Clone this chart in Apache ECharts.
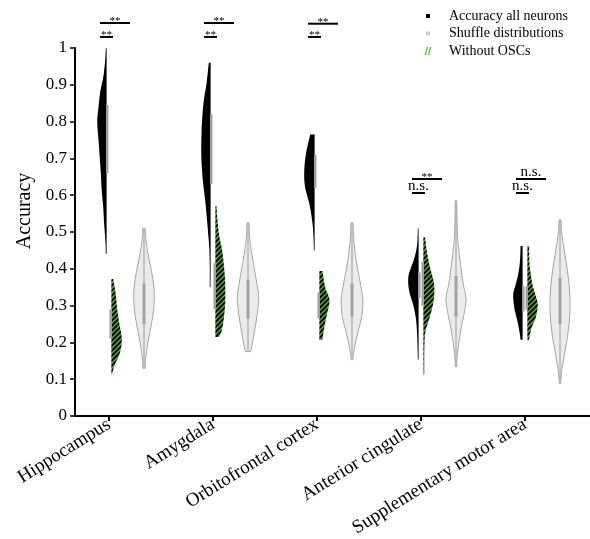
<!DOCTYPE html>
<html>
<head>
<meta charset="utf-8">
<script src="https://cdn.jsdelivr.net/npm/echarts@6/dist/echarts.min.js"></script>
<style>
  html, body { margin: 0; padding: 0; background: #fff; }
  #chart { width: 590px; height: 539px; }
</style>
</head>
<body>
<div id="chart"></div>
<script>
// regions on the x axis
const categories = ['Hippocampus', 'Amygdala', 'Orbitofrontal cortex', 'Anterior cingulate', 'Supplementary motor area'];

// violin outlines: [accuracy, relative density], top to bottom
const allNeuronsProfile = [
  [[1.00,0.03],[0.93,0.27],[0.885,0.60],[0.84,0.80],[0.80,0.93],[0.75,0.80],[0.70,0.67],[0.66,0.57],[0.61,0.47],[0.567,0.33],[0.52,0.23],[0.475,0.10],[0.44,0.03]],
  [[0.96,0.17],[0.903,0.40],[0.858,0.67],[0.81,0.83],[0.767,0.90],[0.722,0.93],[0.676,0.87],[0.63,0.73],[0.585,0.53],[0.54,0.37],[0.494,0.23],[0.45,0.10],[0.40,0.05],[0.35,0.03]],
  [[0.765,0.43],[0.71,0.87],[0.66,1.03],[0.62,0.93],[0.575,0.50],[0.53,0.23],[0.49,0.10],[0.45,0.03]],
  [[0.51,0.03],[0.467,0.13],[0.43,0.40],[0.402,0.77],[0.375,1.03],[0.339,0.93],[0.302,0.53],[0.266,0.27],[0.22,0.13],[0.153,0.03]],
  [[0.462,0.19],[0.421,0.25],[0.385,0.43],[0.357,0.68],[0.33,0.93],[0.293,0.81],[0.257,0.50],[0.23,0.31],[0.207,0.19]]
];
const noOscProfile = [
  [[0.372,0.17],[0.33,0.43],[0.29,0.57],[0.248,0.80],[0.22,1.0],[0.193,1.0],[0.166,0.77],[0.14,0.33],[0.115,0.05]],
  [[0.57,0.10],[0.54,0.17],[0.49,0.37],[0.45,0.67],[0.40,0.87],[0.36,0.97],[0.31,0.97],[0.265,0.83],[0.23,0.60],[0.215,0.35]],
  [[0.394,0.30],[0.35,0.57],[0.315,1.0],[0.275,0.73],[0.24,0.47],[0.207,0.30]],
  [[0.485,0.17],[0.448,0.33],[0.402,0.67],[0.357,1.07],[0.311,1.0],[0.266,0.60],[0.23,0.20],[0.193,0.08],[0.113,0.03]],
  [[0.462,0.16],[0.42,0.19],[0.40,0.25],[0.357,0.50],[0.33,0.78],[0.302,1.03],[0.266,0.81],[0.239,0.40],[0.207,0.16]]
];
const shuffleProfile = [
  [[0.51,0.13],[0.475,0.20],[0.43,0.47],[0.385,0.80],[0.339,1.02],[0.293,0.98],[0.248,0.73],[0.202,0.40],[0.157,0.17],[0.13,0.12]],
  [[0.525,0.10],[0.484,0.17],[0.448,0.33],[0.402,0.62],[0.357,0.90],[0.32,1.07],[0.266,0.87],[0.22,0.58],[0.175,0.28]],
  [[0.525,0.10],[0.484,0.17],[0.44,0.33],[0.393,0.60],[0.348,0.92],[0.315,1.08],[0.275,1.0],[0.239,0.70],[0.202,0.37],[0.166,0.13],[0.153,0.08]],
  [[0.585,0.07],[0.494,0.15],[0.448,0.30],[0.402,0.50],[0.357,0.73],[0.32,1.0],[0.284,0.85],[0.239,0.52],[0.193,0.25],[0.157,0.10],[0.134,0.07]],
  [[0.533,0.09],[0.494,0.19],[0.448,0.43],[0.402,0.70],[0.357,0.91],[0.311,1.0],[0.266,0.96],[0.22,0.77],[0.175,0.49],[0.129,0.21],[0.088,0.06]]
];

// interquartile boxes [q1, q3]
const allNeuronsBox = [[0.66,0.845],[0.63,0.82],[0.62,0.71],[0.32,0.39],[0.284,0.353]];
const noOscBox = [[0.21,0.29],[0.29,0.415],[0.265,0.335],[0.30,0.42],[0.29,0.353]];
const shuffleBox = [[0.25,0.36],[0.265,0.37],[0.27,0.36],[0.27,0.38],[0.25,0.375]];

// significance bars
const sigLongY = [1.068, 1.068, 1.066, 0.644, 0.644];
const sigShortY = [1.03, 1.03, 1.03, 0.606, 0.606];
const sigLongText = ['**', '**', '**', '**', 'n.s.'];
const sigShortText = ['**', '**', '**', 'n.s.', 'n.s.'];

const FONT = 'Liberation Serif';
const GAP = 2.5;       // px between the two half violins
const WIDTH = 10;      // px per density unit
const SHUF_SHIFT = 35; // px, shuffle violin right of tick
const GREEN = '#58b233';

// hatch pattern for the "without OSCs" halves
const hatch = document.createElement('canvas');
hatch.width = 5; hatch.height = 5;
(function () {
  const c = hatch.getContext('2d');
  c.fillStyle = '#000';
  c.fillRect(0, 0, 5, 5);
  c.strokeStyle = GREEN;
  c.lineWidth = 1.5;
  c.beginPath();
  c.moveTo(-1, 6); c.lineTo(6, -1);
  c.moveTo(-1, 1); c.lineTo(1, -1);
  c.moveTo(4, 6); c.lineTo(6, 4);
  c.stroke();
})();

function f(n) { return n.toFixed(2); }

// catmull-rom -> cubic bezier path through pts
function spline(pts, move) {
  let d = (move ? 'M' : 'L') + f(pts[0][0]) + ' ' + f(pts[0][1]);
  for (let k = 0; k < pts.length - 1; k++) {
    const p0 = pts[k - 1] || pts[k], p1 = pts[k], p2 = pts[k + 1], p3 = pts[k + 2] || p2;
    const c1x = p1[0] + (p2[0] - p0[0]) / 6, c1y = p1[1] + (p2[1] - p0[1]) / 6;
    const c2x = p2[0] - (p3[0] - p1[0]) / 6, c2y = p2[1] - (p3[1] - p1[1]) / 6;
    d += ' C' + f(c1x) + ' ' + f(c1y) + ' ' + f(c2x) + ' ' + f(c2y) + ' ' + f(p2[0]) + ' ' + f(p2[1]);
  }
  return d;
}

function halfViolin(profiles, boxes, side, fill) {
  return function (params, api) {
    const i = api.value(0);
    const xc = api.coord([i + 1, 0])[0];
    const edge = xc + side * GAP;
    const pts = profiles[i].map(p => [edge + side * p[1] * WIDTH, api.coord([0, p[0]])[1]]);
    const yTop = pts[0][1], yBot = pts[pts.length - 1][1];
    const d = spline(pts, true) + ' L' + f(edge) + ' ' + f(yBot) + ' L' + f(edge) + ' ' + f(yTop) + ' Z';
    const b = boxes[i];
    const y3 = api.coord([0, b[1]])[1], y1 = api.coord([0, b[0]])[1];
    const bx = side < 0 ? edge - 0.5 : edge - 2;
    return {
      type: 'group',
      children: [
        { type: 'line', shape: { x1: edge + side * 0.5, y1: yTop, x2: edge + side * 0.5, y2: yBot },
          style: { stroke: '#8c8c8c', lineWidth: 1 } },
        { type: 'path', shape: { pathData: d }, style: { fill: fill, stroke: null } },
        { type: 'rect', shape: { x: bx, y: y3, width: 2.5, height: y1 - y3 }, style: { fill: '#a0a0a0' } }
      ]
    };
  };
}

function fullViolin(params, api) {
  const i = api.value(0);
  const xc = api.coord([i + 1, 0])[0] + SHUF_SHIFT;
  const prof = shuffleProfile[i];
  const right = prof.map(p => [xc + p[1] * WIDTH, api.coord([0, p[0]])[1]]);
  const left = prof.slice().reverse().map(p => [xc - p[1] * WIDTH, api.coord([0, p[0]])[1]]);
  const d = spline(right, true) + ' ' + spline(left, false) + ' Z';
  const yTop = right[0][1], yBot = right[right.length - 1][1];
  const b = shuffleBox[i];
  const y3 = api.coord([0, b[1]])[1], y1 = api.coord([0, b[0]])[1];
  return {
    type: 'group',
    children: [
      { type: 'path', shape: { pathData: d }, style: { fill: '#ebebeb', stroke: '#9c9c9c', lineWidth: 0.9 } },
      { type: 'line', shape: { x1: xc, y1: yTop, x2: xc, y2: yBot }, style: { stroke: '#a8a8a8', lineWidth: 1.2 } },
      { type: 'rect', shape: { x: xc - 1.5, y: y3, width: 3, height: y1 - y3 }, style: { fill: '#a0a0a0' } }
    ]
  };
}

function sigLabel(x, y, text) {
  const isStar = text === '**';
  return {
    type: 'text',
    x: x, y: isStar ? y + 3.5 : y + 1,
    style: {
      text: text, align: 'center', verticalAlign: 'bottom',
      fontFamily: FONT, fontSize: isStar ? 11 : 15, fill: '#000'
    }
  };
}

function significance(params, api) {
  const i = api.value(0);
  const xc = api.coord([i + 1, 0])[0];
  const yl = api.coord([0, sigLongY[i]])[1];
  const ys = api.coord([0, sigShortY[i]])[1];
  const x0 = xc - 9, xl = xc + 21, xs = xc + 4;
  return {
    type: 'group',
    children: [
      { type: 'line', shape: { x1: x0, y1: yl, x2: xl, y2: yl }, style: { stroke: '#000', lineWidth: 2 } },
      { type: 'line', shape: { x1: x0, y1: ys, x2: xs, y2: ys }, style: { stroke: '#000', lineWidth: 2 } },
      sigLabel((x0 + xl) / 2, yl, sigLongText[i]),
      sigLabel((x0 + xs) / 2, ys, sigShortText[i])
    ]
  };
}

const idx = categories.map((c, i) => [i]);
const tickVals = categories.map((c, i) => i + 1);

const chart = echarts.init(document.getElementById('chart'));
chart.setOption({
  animation: false,
  textStyle: { fontFamily: FONT },
  grid: { left: 75, right: 0, top: 48, bottom: 123, outerBoundsMode: 'none' },
  legend: {
    orient: 'vertical',
    left: 419,
    top: 4,
    itemWidth: 8,
    itemHeight: 8,
    itemGap: 3.5,
    selectedMode: false,
    textStyle: { fontFamily: FONT, fontSize: 14, color: '#000', padding: [0, 0, 0, 12] },
    data: [
      // the stray moveTo points pad the bounding box so the square stays small
      { name: 'Accuracy all neurons', icon: 'path://M-0.5,-0.5 M9.5,9.5 M2,2L7,2L7,7L2,7Z', itemStyle: { color: '#000' } },
      { name: 'Shuffle distributions', icon: 'path://M-0.5,-0.5 M9.5,9.5 M2,2L7,2L7,7L2,7Z', itemStyle: { color: '#cfcfcf' } },
      { name: 'Without OSCs', icon: 'path://M0,10L3,0L4.6,0L1.6,10Z M4,10L7,0L8.6,0L5.6,10Z', itemStyle: { color: GREEN } }
    ]
  },
  xAxis: {
    type: 'value',
    min: 0.673,
    max: 5.625,
    axisLine: { onZero: false, lineStyle: { color: '#000', width: 2 } },
    axisTick: { show: true, customValues: tickVals, length: 5, lineStyle: { color: '#000', width: 2 } },
    axisLabel: {
      customValues: tickVals,
      formatter: v => categories[Math.round(v) - 1],
      rotate: 32,
      margin: 7,
      fontFamily: FONT,
      fontSize: 19,
      color: '#000'
    },
    splitLine: { show: false }
  },
  yAxis: {
    type: 'value',
    min: 0,
    max: 1,
    interval: 0.1,
    name: 'Accuracy',
    nameLocation: 'middle',
    nameGap: 32,
    nameTextStyle: { fontFamily: FONT, fontSize: 20, color: '#000', padding: [0, 0, 0, 42] },
    axisLine: { show: true, onZero: false, lineStyle: { color: '#000', width: 2 } },
    axisTick: { show: true, length: 5, lineStyle: { color: '#000', width: 1.5 } },
    axisLabel: { fontFamily: FONT, fontSize: 17, color: '#000', margin: 8 },
    splitLine: { show: false }
  },
  series: [
    { name: 'Accuracy all neurons', type: 'custom', data: idx, clip: false,
      renderItem: halfViolin(allNeuronsProfile, allNeuronsBox, -1, '#000') },
    { name: 'Shuffle distributions', type: 'custom', data: idx, clip: false,
      renderItem: fullViolin },
    { name: 'Without OSCs', type: 'custom', data: idx, clip: false,
      renderItem: halfViolin(noOscProfile, noOscBox, 1, { image: hatch, repeat: 'repeat' }) },
    { type: 'custom', data: idx, clip: false, renderItem: significance }
  ]
});
</script>
</body>
</html>
